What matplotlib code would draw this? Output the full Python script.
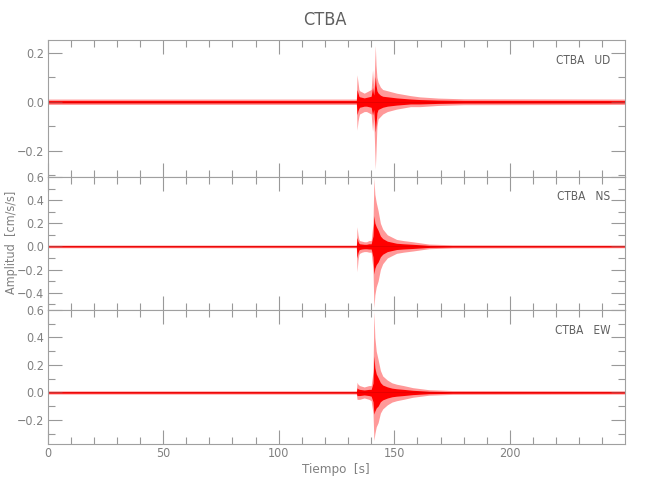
import matplotlib
matplotlib.use("Agg")
import matplotlib.pyplot as plt
from matplotlib.ticker import MultipleLocator, FuncFormatter

plt.rcParams['font.family'] = ['DejaVu Sans']
plt.rcParams['font.stretch'] = 'condensed'
plt.rcParams['font.weight'] = 'light'

station = "CTBA"
components = ["UD", "NS", "EW"]

# envelope of each trace (time in s, amplitude in cm/s/s)
t_ud = [0, 133.6, 133.9, 134.3, 134.7, 135.0, 136, 137, 138, 139, 140, 140.6, 141.1, 141.4,
        141.8, 142.1, 142.5, 143, 144, 145, 147, 149, 151, 154, 157, 161, 169, 180, 250]
up_ud = [0.011, 0.011, 0.11, 0.08, 0.05, 0.045, 0.04, 0.035, 0.04, 0.045, 0.05, 0.13, 0.06, 0.12,
         0.23, 0.15, 0.10, 0.08, 0.06, 0.05, 0.045, 0.04, 0.035, 0.03, 0.025, 0.02, 0.015, 0.012, 0.011]
lo_ud = [-0.011, -0.011, -0.116, -0.08, -0.06, -0.05, -0.045, -0.04, -0.04, -0.045, -0.05, -0.12, -0.07, -0.15,
         -0.275, -0.2, -0.10, -0.07, -0.06, -0.05, -0.04, -0.035, -0.03, -0.025, -0.02, -0.02, -0.015, -0.012, -0.011]

t_ns = [0, 133.6, 133.9, 134.3, 134.7, 135.0, 136, 137, 138, 139, 140, 140.8, 141.2,
        141.6, 142.2, 143, 144, 145, 147, 149, 151, 154, 158, 165, 175, 250]
up_ns = [0.012, 0.012, 0.17, 0.10, 0.06, 0.05, 0.045, 0.04, 0.04, 0.05, 0.05, 0.2, 0.59,
         0.45, 0.38, 0.31, 0.2, 0.15, 0.1, 0.08, 0.06, 0.05, 0.04, 0.02, 0.014, 0.012]
lo_ns = [-0.012, -0.012, -0.22, -0.12, -0.07, -0.06, -0.05, -0.045, -0.045, -0.05, -0.05, -0.2, -0.53,
         -0.42, -0.35, -0.3, -0.2, -0.15, -0.1, -0.08, -0.06, -0.05, -0.04, -0.02, -0.014, -0.012]

t_ew = [0, 133.6, 133.9, 134.3, 135, 136, 137, 138, 139, 140, 140.8, 141.2,
        141.6, 142.2, 143, 144, 145, 147, 149, 151, 154, 158, 165, 175, 250]
up_ew = [0.012, 0.012, 0.074, 0.06, 0.05, 0.045, 0.04, 0.045, 0.05, 0.05, 0.15, 0.59,
         0.40, 0.30, 0.24, 0.16, 0.12, 0.09, 0.07, 0.06, 0.05, 0.035, 0.02, 0.014, 0.012]
lo_ew = [-0.012, -0.012, -0.05, -0.05, -0.05, -0.045, -0.04, -0.045, -0.05, -0.06, -0.15, -0.35,
         -0.30, -0.25, -0.22, -0.15, -0.12, -0.09, -0.07, -0.06, -0.05, -0.035, -0.02, -0.014, -0.012]

traces = [(t_ud, up_ud, lo_ud), (t_ns, up_ns, lo_ns), (t_ew, up_ew, lo_ew)]
ylims = [(-0.307, 0.252), (-0.55, 0.60), (-0.375, 0.60)]


def fmt(v, pos):
    return ("%.1f" % v).replace("-", "\u2212")


gray = '#808080'
fig = plt.figure(figsize=(6.5, 5), dpi=100)
tops = [40, 177, 310, 444]
axes = []
for i in range(3):
    y0 = 1 - tops[i + 1] / 500
    h = (tops[i + 1] - tops[i]) / 500
    ax = fig.add_axes([47.5 / 650, y0, 577.5 / 650, h])
    axes.append(ax)
    t, up, lo = traces[i]
    ax.fill_between(t, up, lo, color='red', alpha=0.4, lw=0)
    ax.fill_between(t, [0.45 * v for v in up], [0.45 * v for v in lo], color='red', lw=0)
    ax.plot([t[0], t[-1]], [0, 0], color='#dd0000', lw=0.5)
    ax.set_xlim(0, 249.8)
    ax.set_ylim(*ylims[i])
    ax.xaxis.set_major_locator(MultipleLocator(50))
    ax.xaxis.set_minor_locator(MultipleLocator(10))
    ax.yaxis.set_major_locator(MultipleLocator(0.2))
    ax.yaxis.set_minor_locator(MultipleLocator(0.1))
    ax.yaxis.set_major_formatter(FuncFormatter(fmt))
    ax.tick_params(which='both', direction='in', top=True, right=True, colors='#999999',
                   labelcolor=gray, labelsize=9, width=0.8, pad=2.5)
    ax.tick_params(which='major', length=10)
    ax.tick_params(which='minor', length=5)
    for s in ax.spines.values():
        s.set_color('#a0a0a0')
        s.set_linewidth(0.8)
    if i < 2:
        ax.tick_params(labelbottom=False)
    ax.text(0.975, 0.85, station + "   " + components[i], transform=ax.transAxes,
            ha='right', va='center', fontsize=8.5, color='#606060')

axes[2].set_xlabel("Tiempo  [s]", color=gray, fontsize=9.5, labelpad=2)
fig.text(12 / 650, 1 - 242 / 500, "Amplitud  [cm/s/s]", rotation=90, ha='center', va='center',
         color=gray, fontsize=9)
fig.text(0.5, 1 - 20 / 500, station, ha='center', va='center', color='#606060', fontsize=13)

fig.savefig("out.png", dpi=100)
